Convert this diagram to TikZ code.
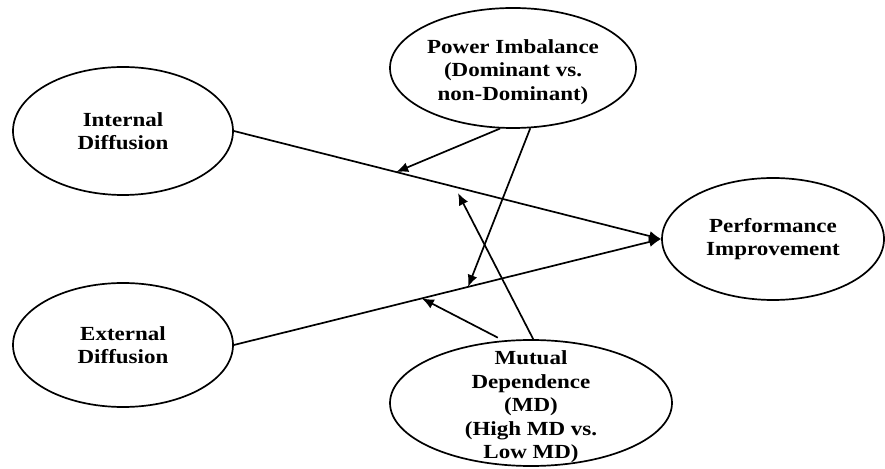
\documentclass[tikz,border=0pt]{standalone}
\usepackage{fontspec}
\setmainfont[FakeStretch=1.15]{Liberation Serif}
\usetikzlibrary{shapes.geometric, arrows.meta}

\begin{document}
\begin{tikzpicture}[x=1pt, y=1pt,
        blob/.style={ellipse, draw, line width=1.7pt, inner sep=0pt},
        txt/.style={align=center, font=\fontsize{20}{23.5}\selectfont\bfseries},
        arr/.style={line width=1.7pt, -{Latex[length=12pt, width=10pt]}}]
    \useasboundingbox (0,0) rectangle (885,468);
    \foreach \position/\name/\wid/\hei in {(123,337)/id/220/128, (123,123)/ed/220/124, (513,400)/pi/246/120, (773,229)/pf/222/122, (531,65)/md/282/126}
        \node (\name) at \position [blob, minimum width=\wid pt, minimum height=\hei pt] {};

    \node[txt] (id-t) at (id) {Internal\\Diffusion};
    \node[txt] (ed-t) at (ed) {External\\Diffusion};
    \node[txt] (pi-t) at ([yshift=-4pt]pi) {Power Imbalance\\(Dominant vs.\\non-Dominant)};
    \node[txt] (pf-t) at (pf) {Performance\\Improvement};
    \node[txt] (md-t) at ([yshift=-4pt]md) {Mutual\\Dependence\\(MD)\\(High MD vs.\\Low MD)};

    \draw[arr] (id.east) -- coordinate[pos=0.38] (id-a) coordinate[pos=0.517] (id-b) (pf.west);
    \draw[arr] (ed.east) -- coordinate[pos=0.44] (ed-a) coordinate[pos=0.548] (ed-b) (pf.west);

    \draw[arr] (pi.258) -- (id-a);
    \draw[arr] (pi.286) -- (ed-b);
    \draw[arr, shorten >=7pt] (md.88) -- (id-b);
    \draw[arr, shorten <=6pt] (md.114) -- (ed-a);
\end{tikzpicture}
\end{document}
